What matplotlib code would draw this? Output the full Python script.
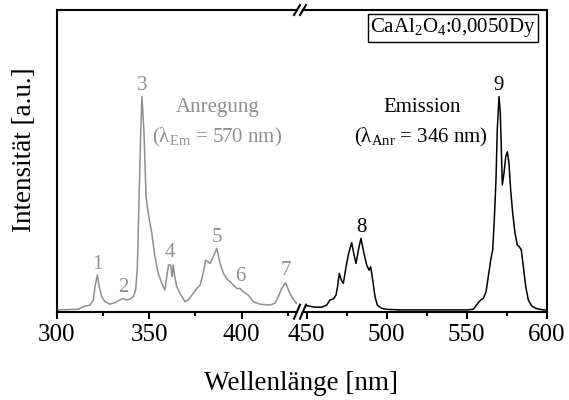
import matplotlib
matplotlib.use("Agg")
import matplotlib.pyplot as plt
from matplotlib.lines import Line2D

plt.rcParams['font.family'] = ['Liberation Serif', 'DejaVu Serif']
plt.rcParams['mathtext.fontset'] = 'custom'
plt.rcParams['mathtext.rm'] = 'Liberation Serif'
plt.rcParams['mathtext.it'] = 'Liberation Serif:italic'

# ---------------- data ----------------
exc_nm = [300.0, 311.7, 314.4, 318.0, 319.8, 320.7, 322.0, 323.0, 324.3, 326.1, 328.8, 331.5,
          334.2, 336.0, 337.8, 339.6, 341.4, 342.7, 343.6, 344.5, 345.4, 346.1, 347.2, 348.3,
          349.5, 351.4, 353.1, 354.9, 356.8, 358.5, 359.5, 360.5, 361.6, 362.3, 363.0, 363.8,
          364.9, 366.6, 369.4, 371.1, 373.8, 375.7, 377.5, 379.2, 380.5, 381.6, 382.9, 384.6,
          386.5, 388.3, 390.1, 391.9, 394.6, 397.3, 399.1, 400.9, 403.6, 406.3, 409.9, 415.3,
          418.0, 419.8, 421.6, 423.8, 425.2, 427.0, 428.8, 430.6]
exc_int = [0.006, 0.008, 0.017, 0.022, 0.039, 0.083, 0.122, 0.083, 0.050, 0.033, 0.025, 0.030,
           0.039, 0.044, 0.039, 0.041, 0.050, 0.072, 0.149, 0.370, 0.591, 0.713, 0.591, 0.381,
           0.326, 0.260, 0.182, 0.127, 0.094, 0.072, 0.116, 0.155, 0.155, 0.116, 0.155, 0.116,
           0.083, 0.061, 0.033, 0.039, 0.061, 0.077, 0.088, 0.127, 0.171, 0.166, 0.160, 0.182,
           0.210, 0.160, 0.127, 0.110, 0.094, 0.077, 0.077, 0.066, 0.055, 0.033, 0.025, 0.022,
           0.028, 0.050, 0.077, 0.096, 0.072, 0.050, 0.033, 0.022]

em_nm = [450.0, 451.0, 455.2, 459.4, 462.5, 464.6, 466.6, 468.3, 469.1, 470.4, 471.6, 472.9,
         474.6, 476.2, 478.1, 479.6, 480.8, 482.3, 483.9, 485.8, 487.5, 488.9, 490.0, 491.25,
         492.7, 494.1, 496.9, 500.0, 508.3, 529.1, 550.0, 554.1, 557.25, 558.75, 560.4, 562.1,
         563.5, 565.0, 566.25, 567.25, 568.3, 569.1, 570.2, 571.0, 571.6, 572.25, 573.3, 574.4,
         575.4, 576.4, 577.5, 578.75, 580.2, 581.6, 582.9, 584.1, 585.4, 586.9, 588.5, 590.6,
         593.75, 597.9, 600.0]
em_int = [0.020, 0.019, 0.015, 0.015, 0.022, 0.039, 0.042, 0.055, 0.077, 0.127, 0.105, 0.094,
          0.149, 0.193, 0.229, 0.188, 0.160, 0.204, 0.243, 0.193, 0.155, 0.138, 0.149, 0.105,
          0.050, 0.022, 0.011, 0.008, 0.006, 0.006, 0.006, 0.008, 0.030, 0.039, 0.044, 0.066,
          0.116, 0.171, 0.205, 0.304, 0.437, 0.602, 0.713, 0.658, 0.547, 0.420, 0.459, 0.514,
          0.530, 0.492, 0.403, 0.326, 0.260, 0.221, 0.215, 0.205, 0.149, 0.083, 0.039, 0.019,
          0.010, 0.006, 0.005]

left_major = [300, 350, 400]
left_minor = [325, 375, 425]
right_major = [450, 500, 550, 600]
right_minor = [475, 525, 575]

exc_peaks = {"1": (322.0, 0.155), "2": (336.0, 0.081), "3": (346.1, 0.751), "4": (361.2, 0.197),
             "5": (386.5, 0.247), "6": (399.1, 0.116), "7": (423.8, 0.136)}
em_peaks = {"8": (483.9, 0.278), "9": (570.0, 0.751)}

# ---------------- figure ----------------
W, H = 569, 400
fig = plt.figure(figsize=(W / 100, H / 100), dpi=100)

def fx(px):
    return px / W

def fy(py):
    return 1 - py / H

ax_l_px = (56.7, 297.0)
ax_r_px = (303.0, 546.7)
top_px, bot_px = 10.0, 311.7

axL = fig.add_axes([fx(ax_l_px[0]), fy(bot_px), fx(ax_l_px[1] - ax_l_px[0]), (bot_px - top_px) / H])
axR = fig.add_axes([fx(ax_r_px[0]), fy(bot_px), fx(ax_r_px[1] - ax_r_px[0]), (bot_px - top_px) / H])

gray = '#8f8f8f'
axL.plot(exc_nm, exc_int, color=gray, lw=1.1)
axR.plot(em_nm, em_int, color='black', lw=1.1)

axL.set_xlim(300, 300 + (ax_l_px[1] - ax_l_px[0]) / 1.85)
axR.set_xlim(450 - (306.7 - ax_r_px[0]) / 1.6, 600)
for ax in (axL, axR):
    ax.set_ylim(0, 1)
    ax.set_yticks([])
    for s in ax.spines.values():
        s.set_linewidth(1.5)
    ax.tick_params(axis='x', which='major', direction='out', length=5, width=1.5,
                   labelsize=18, pad=4)
    ax.tick_params(axis='x', which='minor', direction='out', length=3, width=1.5)
axL.spines['right'].set_visible(False)
axR.spines['left'].set_visible(False)
axL.set_xticks(left_major)
axL.set_xticks(left_minor, minor=True)
axR.set_xticks(right_major)
axR.set_xticks(right_minor, minor=True)

for k, (x, y) in exc_peaks.items():
    axL.text(x, y, k, color=gray, fontsize=15, ha='center', va='center')
for k, (x, y) in em_peaks.items():
    axR.text(x, y, k, color='black', fontsize=15, ha='center', va='center')

axL.text(386.9, 0.678, "Anregung", color=gray, fontsize=15, ha='center', va='center')
axL.text(386.9, 0.579, "(λ$_{\\mathrm{Em}}$ = 570 nm)", color=gray, fontsize=15, ha='center', va='center')
axR.text(522.0, 0.678, "Emission", color='black', fontsize=15, ha='center', va='center')
axR.text(521.4, 0.579, "(λ$_{\\mathrm{Anr}}$ = 346 nm)", color='black', fontsize=15, ha='center', va='center')

fig.text(fx(453), fy(27.5), "CaAl$_{2}$O$_{4}$:0,0050Dy", fontsize=15, ha='center', va='center',
         bbox=dict(boxstyle='square,pad=0.12', facecolor='white', edgecolor='black', linewidth=1.0))

fig.text(fx(301), fy(383), "Wellenlänge [nm]", fontsize=19.5, ha='center', va='center')
fig.text(fx(25), fy(150), "Intensität [a.u.]", fontsize=19.5, ha='center', va='center', rotation=90)

# break marks
for yc, dy in ((bot_px, 7), (top_px, 5)):
    for xc in (297.0, 303.0):
        fig.add_artist(Line2D([fx(xc - 3), fx(xc + 3)], [fy(yc + dy), fy(yc - dy)],
                              transform=fig.transFigure, color='black', lw=1.5))

fig.savefig("out.png", dpi=100)
